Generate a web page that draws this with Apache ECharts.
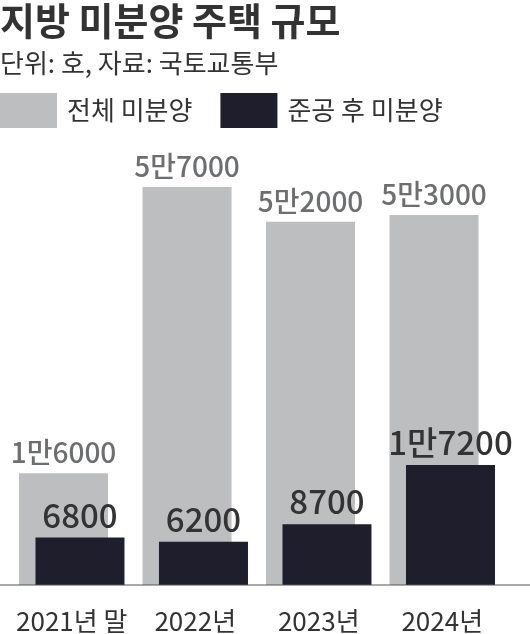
<!DOCTYPE html>
<html>
<head>
<meta charset="utf-8">
<script src="https://cdn.jsdelivr.net/npm/echarts@6/dist/echarts.min.js"></script>
<style>
html,body{margin:0;padding:0;background:#fff;}
#c{width:530px;height:634px;}
</style>
</head>
<body>
<div id="c"></div>
<script>
var categories = ['2021년 말', '2022년', '2023년', '2024년'];
var totalUnsold = [16000, 57000, 52000, 53000];
var completedUnsold = [6800, 6200, 8700, 17200];
var seriesNames = ['전체 미분양', '준공 후 미분양'];

var NUMF = "'Noto Sans CJK KR', sans-serif";
var KR = "'Noto Sans CJK KR', sans-serif";

function fmt(v) {
  if (v >= 10000) {
    return Math.floor(v / 10000) + '만' + (v % 10000);
  }
  return String(v);
}

var chart = echarts.init(document.getElementById('c'));
var option = {
  animation: false,
  backgroundColor: '#ffffff',
  title: [{
    text: '지방 미분양 주택 규모',
    left: 0, top: 2, padding: 0,
    textStyle: { fontFamily: KR, fontSize: 38, fontWeight: 'bold', color: '#333333' }
  }, {
    text: '단위: 호, 자료: 국토교통부',
    left: 0, top: 50, padding: 0,
    textStyle: { fontFamily: KR, fontSize: 26, fontWeight: 'normal', color: '#333333' }
  }],
  legend: {
    left: 0, top: 93, padding: 0,
    icon: 'rect',
    itemWidth: 57, itemHeight: 35,
    itemGap: 28,
    textStyle: { fontFamily: KR, fontSize: 26, color: '#333333', padding: [0, 0, 0, 5] },
    data: seriesNames
  },
  grid: { left: 10, right: 26, top: 166, bottom: 46 },
  xAxis: {
    type: 'category',
    data: categories,
    axisLine: { show: false },
    axisTick: { show: false },
    axisLabel: { interval: 0, fontFamily: NUMF, fontSize: 26, color: '#333333', margin: 23 }
  },
  yAxis: {
    type: 'value', min: 0, max: 60000,
    show: false,
    splitLine: { show: false }
  },
  series: [{
    name: seriesNames[0],
    type: 'bar',
    data: totalUnsold,
    barWidth: 89,
    barGap: '-81.5%',
    itemStyle: { color: '#bdbec0' },
    label: {
      show: true, position: 'top', distance: 7,
      formatter: function (p) { return fmt(p.value); },
      fontFamily: NUMF, fontSize: 28, fontWeight: 500, color: '#6d6e70'
    }
  }, {
    name: seriesNames[1],
    type: 'bar',
    data: completedUnsold,
    barWidth: 89,
    itemStyle: { color: '#1e1e2c' },
    label: {
      show: true, position: 'top', distance: 6,
      formatter: function (p) { return fmt(p.value); },
      fontFamily: NUMF, fontSize: 33, fontWeight: 500, color: '#333333'
    }
  }]
};
chart.setOption(option);
var baseY = chart.convertToPixel({ yAxisIndex: 0 }, 0);
chart.setOption({
  graphic: [{
    type: 'line',
    shape: { x1: 0, y1: baseY, x2: 530, y2: baseY },
    style: { stroke: '#555555', lineWidth: 1 },
    z: 10
  }]
});
</script>
</body>
</html>
